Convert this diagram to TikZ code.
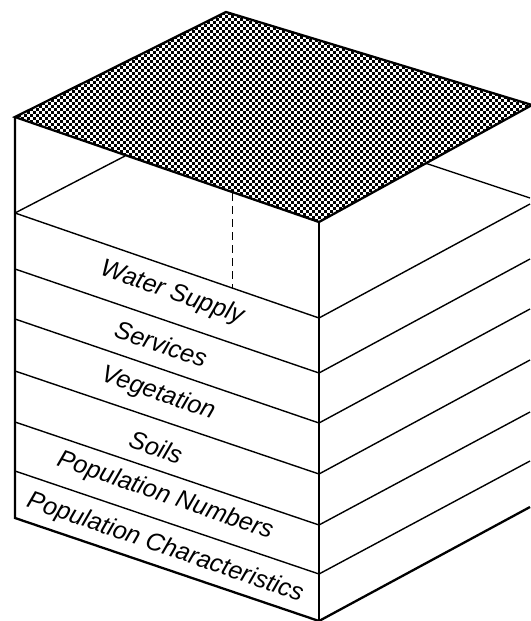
\documentclass[tikz,border=0pt]{standalone}
\usepackage{fontspec}
\setmainfont{Liberation Sans}
\tikzset{
    edgeline/.style={draw, line width=2.3pt},
    levelline/.style={draw, line width=1.4pt},
    hiddenline/.style={draw, line width=0.9pt, dash pattern=on 8pt off 5pt},
    levellabel/.style={font=\itshape\fontsize{25}{28}\selectfont, rotate=-19, inner sep=0pt},
}
\begin{document}
\begin{tikzpicture}[x=1pt,y=-1pt]
    \useasboundingbox (0,0) rectangle (530,621);
    % corners of the block
    \coordinate (apex) at (226,12);
    \coordinate (left) at (15,117);
    \coordinate (front) at (319,222);
    \coordinate (right) at (532,105);
    \coordinate (leftbase) at (15,518);
    \coordinate (frontbase) at (319,621);
    \coordinate (rightbase) at (530,507);

    % level lines, left face
    \coordinate (la) at (15,213);
    \coordinate (lb) at (15,269);
    \coordinate (lc) at (15,319);
    \coordinate (ld) at (15,371);
    \coordinate (le) at (15,422);
    \coordinate (lf) at (15,471);
    \coordinate (fa) at (319,318);
    \coordinate (fb) at (319,373);
    \coordinate (fc) at (319,423);
    \coordinate (fd) at (319,474);
    \coordinate (fe) at (319,525);
    \coordinate (ff) at (319,574);
    \coordinate (ra) at (530,204);
    \coordinate (rb) at (530,259);
    \coordinate (rc) at (530,309);
    \coordinate (rd) at (530,360);
    \coordinate (re) at (530,412);
    \coordinate (rf) at (530,461);
    \draw[levelline] (la) -- (fa);
    \draw[levelline] (lb) -- (fb);
    \draw[levelline] (lc) -- (fc);
    \draw[levelline] (ld) -- (fd);
    \draw[levelline] (le) -- (fe);
    \draw[levelline] (lf) -- (ff);
    \draw[levelline] (fa) -- (ra);
    \draw[levelline] (fb) -- (rb);
    \draw[levelline] (fc) -- (rc);
    \draw[levelline] (fd) -- (rd);
    \draw[levelline] (fe) -- (re);
    \draw[levelline] (ff) -- (rf);

    % back of the top level, under the roof
    \coordinate (backl) at (125,156);
    \coordinate (backr) at (425,163);
    \coordinate (rback) at (530,198);
    \draw[levelline] (la) -- (backl);
    \draw[levelline] (backr) -- (rback);
    \coordinate (dashtop) at (232,193);
    \coordinate (dashbot) at (232,288);
    \draw[hiddenline] (dashtop) -- (dashbot);

    % roof
    \fill[white] (apex) -- (right) -- (front) -- (left) -- cycle;
    \begin{scope}
        \clip (apex) -- (right) -- (front) -- (left) -- cycle;
        \foreach \row in {0,...,35} {
            \foreach \col in {0,...,88} {
                \fill (12+6*\col,12+6*\row) rectangle +(3.3,3.3);
                \fill (15+6*\col,15+6*\row) rectangle +(3.3,3.3);
            }
        }
    \end{scope}
    \draw[edgeline] (apex) -- (right) -- (front) -- (left) -- cycle;

    % outer edges
    \draw[edgeline] (left) -- (leftbase) -- (frontbase) -- (rightbase);
    \draw[edgeline] (front) -- (frontbase);

    \node (water) [levellabel] at (172,293) {Water Supply};
    \node (services) [levellabel] at (161,344) {Services};
    \node (vegetation) [levellabel] at (158,394) {Vegetation};
    \node (soils) [levellabel] at (156,447) {Soils};
    \node (numbers) [levellabel] at (165,496) {Population Numbers};
    \node (characteristics) [levellabel] at (165,548) {Population Characteristics};
\end{tikzpicture}
\end{document}
